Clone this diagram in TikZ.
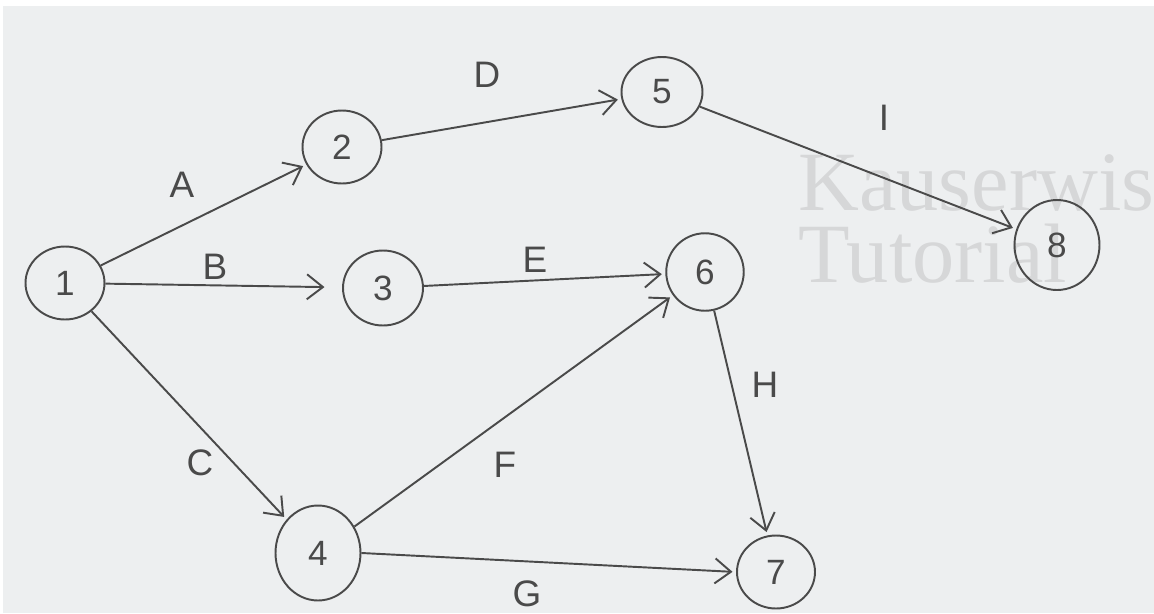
\documentclass[tikz,border=0pt]{standalone}
\usepackage{fontspec}
\setmainfont{Liberation Sans}
\newfontfamily\wmfont{Liberation Serif}
\usetikzlibrary{arrows.meta,shapes.geometric}
\definecolor{bgc}{HTML}{EDEFF0}
\definecolor{ink}{HTML}{4A4A4A}
\definecolor{wm}{HTML}{D6D7D8}
\tikzset{
  ev/.style={draw=ink, line width=1.1pt, ellipse, minimum width=1.58cm, minimum height=1.46cm, inner sep=0pt, font=\fontsize{20}{20}\selectfont, text=ink},
  act/.style={draw=ink, line width=1.1pt, -{Straight Barb[length=3.2mm,width=5mm,line width=1.1pt]}, shorten >=2pt},
  lab/.style={font=\fontsize{21}{21}\selectfont, text=ink},
}
\begin{document}
\begin{tikzpicture}[x=0.02cm,y=-0.02cm]
\fill[bgc] (0,0) rectangle (1154,613);
\fill[white] (0,0) rectangle (1154,6);
\fill[white] (0,0) rectangle (3,613);
\useasboundingbox (0,0) rectangle (1154,613);
\begin{scope}
\clip (0,0) rectangle (1154,613);
\node[anchor=base west, text=wm, font=\wmfont\fontsize{48}{48}\selectfont, inner sep=0pt] (wm1) at (798,210) {Kauserwis};
\node[anchor=base west, text=wm, font=\wmfont\fontsize{48}{48}\selectfont, inner sep=0pt] (wm2) at (798,282) {Tutorial};
\end{scope}
\node[ev] (n1) at (65,283) {1};
\node[ev] (n2) at (342,147) {2};
\node[ev, minimum width=1.6cm, minimum height=1.5cm] (n3) at (383,288) {3};
\node[ev, minimum width=1.7cm, minimum height=1.9cm] (n4) at (318,553) {4};
\node[ev, minimum width=1.62cm, minimum height=1.4cm] (n5) at (662,92) {5};
\node[ev, minimum width=1.55cm, minimum height=1.55cm] (n6) at (705,272) {6};
\node[ev, minimum width=1.56cm, minimum height=1.46cm] (n7) at (776,572) {7};
\node[ev, minimum width=1.7cm, minimum height=1.8cm] (n8) at (1057,245) {8};
\draw[act] (n1) -- (n2);
\draw[act, shorten >=10pt] (n1) -- (n3);
\draw[act] (n1) -- (n4);
\draw[act] (n2) -- (n5);
\draw[act] (n3) -- (n6);
\draw[act] (n4) -- (n6);
\draw[act] (n4.east) -- (n7.west);
\draw[act] (n5) -- (n8);
\draw[act] (n6) -- (n7);
\node[lab] (la) at (182,185) {A};
\node[lab] (lb) at (215,267) {B};
\node[lab] (lc) at (200,463) {C};
\node[lab] (ld) at (487,75) {D};
\node[lab] (le) at (535,260) {E};
\node[lab] (lf) at (505,465) {F};
\node[lab] (lg) at (527,594) {G};
\node[lab] (lh) at (765,385) {H};
\node[lab] (li) at (884,118) {I};
\end{tikzpicture}
\end{document}
